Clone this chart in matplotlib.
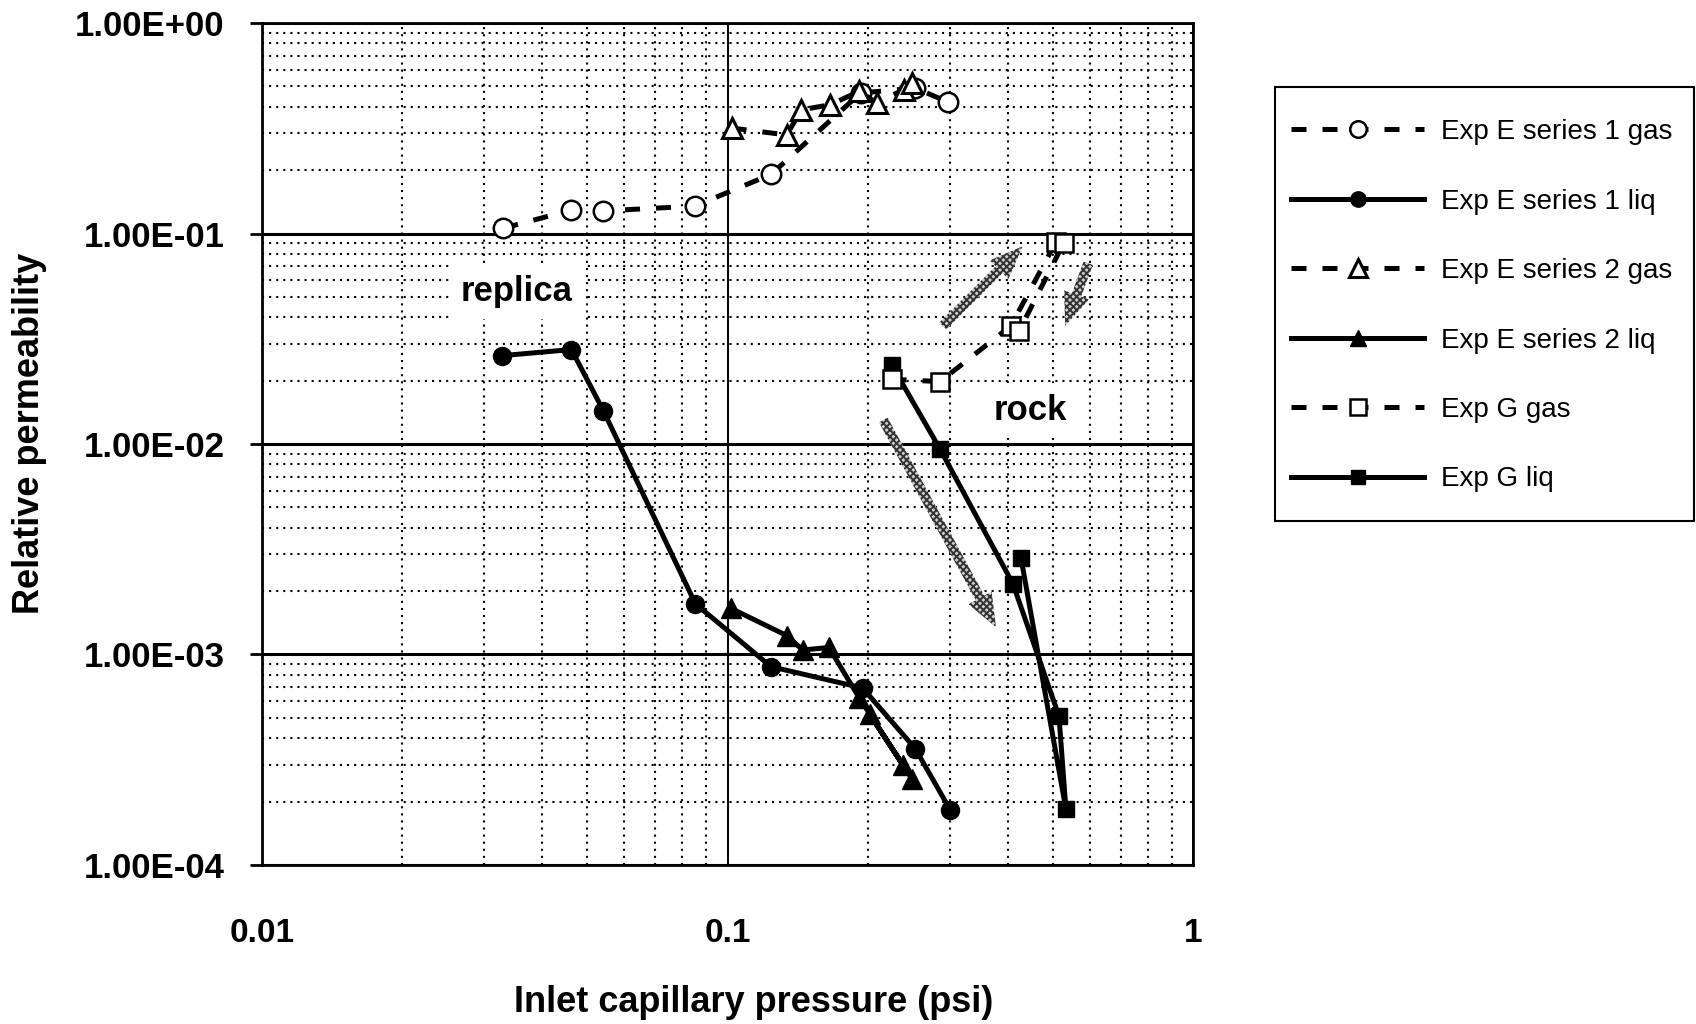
import matplotlib
matplotlib.use("Agg")
import matplotlib.pyplot as plt
from matplotlib.patches import Rectangle
from matplotlib.ticker import FixedLocator, LogLocator, NullFormatter

plt.rcParams['font.family'] = ['Liberation Sans', 'DejaVu Sans']
plt.rcParams['hatch.linewidth'] = 1.4

# Exp E series 1 (inlet capillary pressure in psi, relative permeability)
e1_gas_p = [0.033, 0.046, 0.054, 0.085, 0.124, 0.193, 0.253, 0.298]
e1_gas_k = [0.106, 0.129, 0.128, 0.135, 0.191, 0.465, 0.491, 0.421]
e1_liq_p = [0.0328, 0.0462, 0.0541, 0.0853, 0.124, 0.195, 0.253, 0.301]
e1_liq_k = [0.0263, 0.0281, 0.0144, 0.00174, 0.000875, 0.000693, 0.000357, 0.000182]

# Exp E series 2
e2_gas_p = [0.102, 0.134, 0.144, 0.166, 0.192, 0.209, 0.239, 0.249]
e2_gas_k = [0.317, 0.294, 0.387, 0.409, 0.474, 0.417, 0.483, 0.519]
e2_liq_p = [0.1015, 0.134, 0.145, 0.165, 0.192, 0.238, 0.202, 0.249]
e2_liq_k = [0.00166, 0.00123, 0.00105, 0.00108, 0.00062, 0.000299, 0.00052, 0.000256]

# Exp G
g_gas_p = [0.225, 0.286, 0.406, 0.507, 0.527, 0.423]
g_gas_k = [0.0203, 0.0198, 0.0364, 0.091, 0.090, 0.0345]
g_liq_p = [0.225, 0.286, 0.410, 0.515, 0.533, 0.427]
g_liq_k = [0.0238, 0.00946, 0.00217, 0.00051, 0.000184, 0.00286]

x_ticks = [0.01, 0.1, 1]
x_tick_labels = ['0.01', '0.1', '1']
y_ticks = [1e-4, 1e-3, 1e-2, 1e-1, 1]
y_tick_labels = ['1.00E-04', '1.00E-03', '1.00E-02', '1.00E-01', '1.00E+00']

# annotation arrows: (tail, tip) in data units
arrows = [((0.29, 0.0364), (0.43, 0.0869)),
          ((0.595, 0.0722), (0.531, 0.0364)),
          ((0.216, 0.0130), (0.377, 0.00135))]
notes = [('replica', 0.0352, 0.0532), ('rock', 0.446, 0.01445)]

W, H = 1696, 1024
fig = plt.figure(figsize=(W / 100, H / 100), dpi=100)
ax = fig.add_axes([0.1545, 0.1553, 0.549, 0.8222])
ax.set_xscale('log')
ax.set_yscale('log')
ax.set_xlim(0.01, 1)
ax.set_ylim(1e-4, 1)

dash = (0, (3, 3.2))
lw = 3.6
ax.plot(e1_liq_p, e1_liq_k, '-', color='black', lw=lw, marker='o', ms=13,
        mfc='black', mec='black', label='Exp E series 1 liq', zorder=4)
ax.plot(e2_liq_p, e2_liq_k, '-', color='black', lw=lw, marker='^', ms=14,
        mfc='black', mec='black', label='Exp E series 2 liq', zorder=4)
ax.plot(g_liq_p, g_liq_k, '-', color='black', lw=lw, marker='s', ms=12,
        mfc='black', mec='black', label='Exp G liq', zorder=4)
ax.plot(e1_gas_p, e1_gas_k, linestyle=dash, color='black', lw=lw, marker='o', ms=14,
        mfc='white', mec='black', mew=1.8, label='Exp E series 1 gas', zorder=5)
ax.plot(e2_gas_p, e2_gas_k, linestyle=dash, color='black', lw=lw, marker='^', ms=15,
        mfc='white', mec='black', mew=2.2, label='Exp E series 2 gas', zorder=5)
ax.plot(g_gas_p, g_gas_k, linestyle=dash, color='black', lw=lw, marker='s', ms=13,
        mfc='white', mec='black', mew=1.8, label='Exp G gas', zorder=5)

for tail, tip in arrows:
    ax.annotate('', xy=tip, xytext=tail, zorder=3,
                arrowprops=dict(arrowstyle='simple,head_length=1.7,head_width=1.35,tail_width=0.5',
                                mutation_scale=14, fc='#d0d0d0', ec='#333333', lw=0,
                                hatch='xxxxx', shrinkA=0, shrinkB=0))

for txt, x, y in notes:
    ax.text(x, y, txt, fontsize=25, fontweight='bold', ha='center', va='center', zorder=3,
            bbox=dict(facecolor='white', edgecolor='none', pad=8))

# grid
ax.set_axisbelow(True)
ax.xaxis.set_minor_locator(LogLocator(base=10, subs=range(2, 10)))
ax.yaxis.set_minor_locator(LogLocator(base=10, subs=range(2, 10)))
ax.xaxis.set_minor_formatter(NullFormatter())
ax.yaxis.set_minor_formatter(NullFormatter())
ax.grid(which='minor', color='black', lw=1.5, linestyle=(0, (1, 2.4)))
ax.xaxis.grid(which='major', color='black', lw=1.4)
ax.yaxis.grid(which='major', color='black', lw=2.2)

ax.xaxis.set_major_locator(FixedLocator(x_ticks))
ax.set_xticklabels(x_tick_labels)
ax.yaxis.set_major_locator(FixedLocator(y_ticks))
ax.set_yticklabels(y_tick_labels)
ax.tick_params(axis='x', which='both', length=0, pad=38, labelsize=24)
ax.tick_params(axis='y', which='major', direction='out', length=9, width=2, pad=18, labelsize=25)
ax.tick_params(axis='y', which='minor', length=0)
for lab in ax.get_xticklabels() + ax.get_yticklabels():
    lab.set_fontweight('bold')
for sp in ax.spines.values():
    sp.set_linewidth(2)

fig.text(754 / W, 1 - 1003 / H, 'Inlet capillary pressure (psi)', fontsize=26,
         fontweight='bold', ha='center', va='center')
fig.text(30 / W, 1 - 433 / H, 'Relative permeability', fontsize=26,
         fontweight='bold', ha='center', va='center', rotation=90)

# legend box drawn separately so the row spacing and the frame can be set apart
fig.patches.append(Rectangle((1275 / W, 1 - 521 / H), 419 / W, 434 / H,
                             transform=fig.transFigure, fill=False,
                             edgecolor='black', lw=1.5))
order = ['Exp E series 1 gas', 'Exp E series 1 liq', 'Exp E series 2 gas',
         'Exp E series 2 liq', 'Exp G gas', 'Exp G liq']
handles, labels = ax.get_legend_handles_labels()
hmap = dict(zip(labels, handles))
fig.legend([hmap[k] for k in order], order, loc='upper left',
           bbox_to_anchor=(1275 / W, 1 - 103 / H), borderaxespad=0, fontsize=20,
           handlelength=4.8, handletextpad=0.58, labelspacing=1.565, borderpad=0.58,
           markerscale=0.85, frameon=False)

fig.savefig('out.png', dpi=100, facecolor='white')
